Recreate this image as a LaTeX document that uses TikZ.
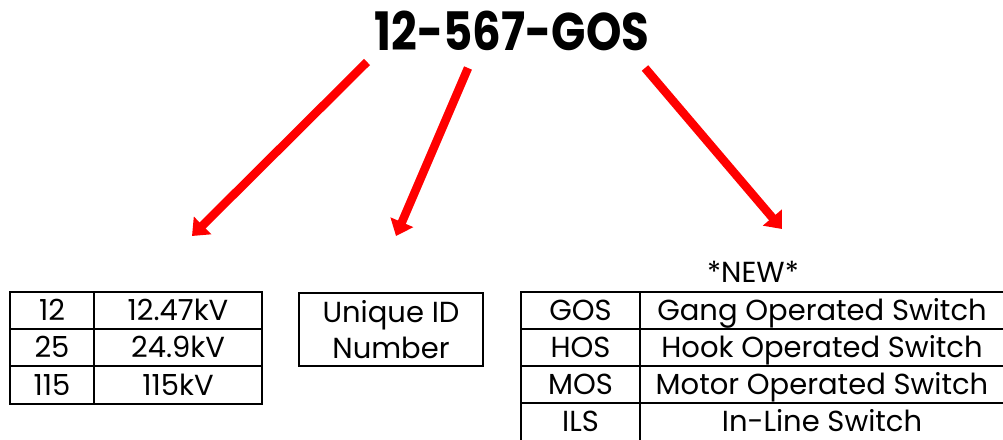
\documentclass[tikz,border=0pt]{standalone}
\usepackage{fontspec}
\setmainfont{Poppins}
\usetikzlibrary{arrows.meta}
\begin{document}
\begin{tikzpicture}[x=1pt,y=1pt,
  cell/.style={draw=black,line width=2pt,inner sep=0pt,text height=20.2pt,text depth=0pt,font=\fontsize{29}{30}\selectfont},
  txt/.style={inner sep=0pt,text height=20.2pt,text depth=0pt,font=\fontsize{29}{30}\selectfont},
  redarrow/.style={draw=red,line width=8.5pt,-{Triangle[width=24pt,length=15pt]}},
]
\useasboundingbox (0,0) rectangle (1003,-439);
\clip (0,0) rectangle (1003,-439);
\node[inner sep=0pt,text height=37pt,text depth=0pt,font=\fontsize{53}{55}\selectfont\bfseries] (title) at (512,-31.5) {\scalebox{0.85}[1]{12-567-GOS}};
% table 1
\node[cell,minimum width=84,minimum height=37] (a1) at (52,-310.5) {12};
\node[cell,minimum width=168,minimum height=37] (b1) at (178,-310.5) {12.47kV};
\node[cell,minimum width=84,minimum height=37] (a2) at (52,-347.5) {25};
\node[cell,minimum width=168,minimum height=37] (b2) at (178,-347.5) {24.9kV};
\node[cell,minimum width=84,minimum height=38] (a3) at (52,-385) {115};
\node[cell,minimum width=168,minimum height=38] (b3) at (178,-385) {115kV};
% box 2
\node[draw=black,line width=2pt,minimum width=184,minimum height=73] (uid) at (391,-329.5) {};
\node[txt] (uidA) at (391,-312) {Unique ID};
\node[txt] (uidB) at (391,-348) {Number};
% table 3
\node[txt] (new) at (753,-272.5) {*NEW*};
\node[cell,minimum width=119,minimum height=37] (c1) at (580.5,-310.5) {GOS};
\node[cell,minimum width=364,minimum height=37] (d1) at (822,-310.5) {Gang Operated Switch};
\node[cell,minimum width=119,minimum height=37] (c2) at (580.5,-347.5) {HOS};
\node[cell,minimum width=364,minimum height=37] (d2) at (822,-347.5) {Hook Operated Switch};
\node[cell,minimum width=119,minimum height=37] (c3) at (580.5,-384.5) {MOS};
\node[cell,minimum width=364,minimum height=37] (d3) at (822,-384.5) {Motor Operated Switch};
\node[cell,text depth=10pt,minimum width=119,minimum height=47] (c4) at (580.5,-426.5) {ILS};
\node[cell,text depth=10pt,minimum width=364,minimum height=47] (d4) at (822,-426.5) {In-Line Switch};
% arrows
\coordinate (s1) at (367,-62);
\coordinate (e1) at (192,-236);
\coordinate (s2) at (468,-68);
\coordinate (e2) at (396,-236);
\coordinate (s3) at (645,-68);
\coordinate (e3) at (782,-229);
\draw[redarrow] (s1) -- (e1);
\draw[redarrow] (s2) -- (e2);
\draw[redarrow] (s3) -- (e3);
\end{tikzpicture}
\end{document}
